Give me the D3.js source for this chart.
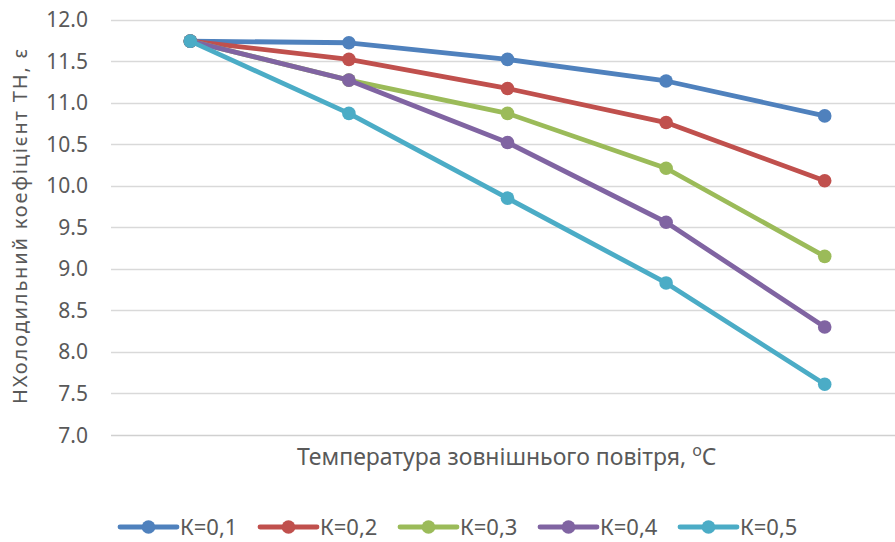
<!DOCTYPE html>
<html lang="uk">
<head>
  <meta charset="utf-8">
  <title>Холодильний коефіцієнт</title>
  <script src="https://d3js.org/d3.v7.min.js"></script>
  <style>
    body { margin: 0; background: #fff; }
    text { font-family: "Noto Sans", "Open Sans", sans-serif; fill: #595959; }
  </style>
</head>
<body>
  <script>
    var w = 895, h = 542;

    // data
    var categories = ["t1", "t2", "t3", "t4", "t5"];
    var seriesNames = ["К=0,1", "К=0,2", "К=0,3", "К=0,4", "К=0,5"];
    var k01 = [11.74, 11.72, 11.52, 11.26, 10.84];
    var k02 = [11.74, 11.52, 11.17, 10.76, 10.06];
    var k03 = [11.74, 11.27, 10.87, 10.21, 9.15];
    var k04 = [11.74, 11.27, 10.52, 9.56, 8.30];
    var k05 = [11.74, 10.87, 9.85, 8.83, 7.61];
    var yTicks = [7.0, 7.5, 8.0, 8.5, 9.0, 9.5, 10.0, 10.5, 11.0, 11.5, 12.0];
    var colors = ["#4F81BD", "#C0504D", "#9BBB59", "#8064A2", "#4BACC6"];

    var series = [k01, k02, k03, k04, k05].map(function(v, i) {
      return { name: seriesNames[i], values: v, color: colors[i] };
    });

    var svg = d3.select("body").append("svg")
      .attr("width", w)
      .attr("height", h);

    var x = d3.scaleBand().domain(categories).range([111, 904]);
    var y = d3.scaleLinear().domain([7, 12]).range([435, 19.5]);

    // gridlines
    svg.append("g")
      .selectAll("line")
      .data(yTicks)
      .enter()
      .append("line")
      .attr("x1", 111).attr("x2", w)
      .attr("y1", function(d) { return Math.round(y(d)) + 0.5; })
      .attr("y2", function(d) { return Math.round(y(d)) + 0.5; })
      .attr("stroke", function(d) { return d === 7 ? "#d0d0d0" : "#d9d9d9"; })
      .attr("stroke-width", 1.3);

    // y tick labels
    svg.append("g")
      .selectAll("text")
      .data(yTicks)
      .enter()
      .append("text")
      .attr("x", 88)
      .attr("y", function(d) { return y(d); })
      .attr("dy", "0.36em")
      .attr("text-anchor", "end")
      .style("font-size", "21px")
      .text(function(d) { return d3.format(".1f")(d); });

    // axis titles
    svg.append("text")
      .attr("transform", "translate(27,226.5) rotate(-90)")
      .attr("text-anchor", "middle")
      .attr("textLength", 355)
      .attr("lengthAdjust", "spacing")
      .style("font-size", "20px")
      .text("НХолодильний коефіцієнт ТН, ε");

    var xt = svg.append("text")
      .attr("x", 297)
      .attr("y", 465)
      .style("font-size", "23px");
    xt.append("tspan").text("Температура зовнішнього повітря, ");
    xt.append("tspan").attr("dy", -9).style("font-size", "16px").text("o");
    xt.append("tspan").attr("dy", 9).text("C");

    var cx = function(d, i) { return x(categories[i]) + x.bandwidth() / 2; };
    var line = d3.line()
      .x(function(d, i) { return cx(d, i); })
      .y(function(d) { return y(d); });

    var g = svg.append("g")
      .selectAll("g")
      .data(series)
      .enter()
      .append("g");

    g.append("path")
      .attr("d", function(s) { return line(s.values); })
      .attr("fill", "none")
      .attr("stroke", function(s) { return s.color; })
      .attr("stroke-width", 4.8)
      .attr("stroke-linejoin", "round");

    g.each(function(s) {
      d3.select(this).selectAll("circle")
        .data(s.values)
        .enter()
        .append("circle")
        .attr("cx", cx)
        .attr("cy", function(d) { return y(d); })
        .attr("r", 6.8)
        .attr("fill", s.color);
    });

    // legend
    var legend = svg.append("g")
      .selectAll("g")
      .data(series)
      .enter()
      .append("g")
      .attr("transform", function(s, i) { return "translate(" + (120 + i * 140) + ",527)"; });

    legend.append("line")
      .attr("x1", 0).attr("x2", 57)
      .attr("stroke", function(s) { return s.color; })
      .attr("stroke-width", 4.8)
      .attr("stroke-linecap", "round");
    legend.append("circle")
      .attr("cx", 28.5).attr("r", 6.8)
      .attr("fill", function(s) { return s.color; });
    legend.append("text")
      .attr("x", 60)
      .attr("dy", "0.36em")
      .style("font-size", "22px")
      .text(function(s) { return s.name; });
  </script>
</body>
</html>
